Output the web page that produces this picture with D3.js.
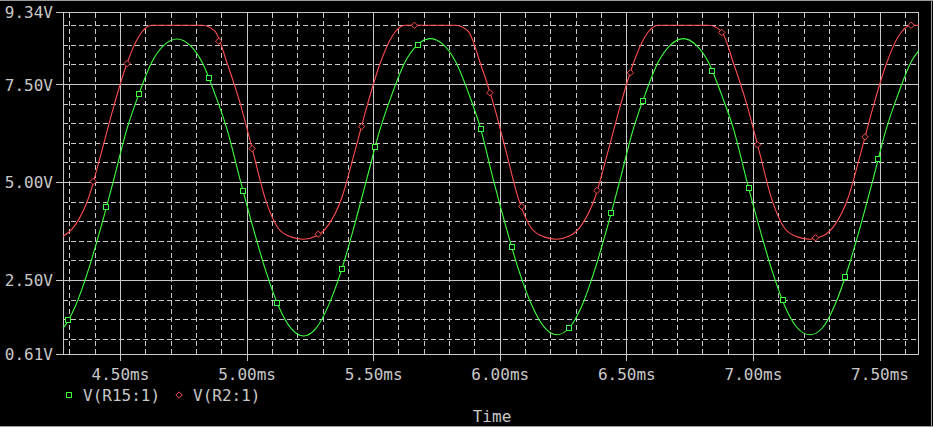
<!DOCTYPE html>
<html><head><meta charset="utf-8">
<script src="https://cdn.jsdelivr.net/npm/d3@7"></script>
<style>
html,body{margin:0;padding:0;background:#000;}
svg{display:block;}
text{font-family:"DejaVu Sans Mono","Liberation Mono",monospace;font-size:16px;fill:#c8c8c8;}
</style></head><body>
<svg id="chart" width="933" height="427"></svg>
<script>
// ---- data ----
const time = [4.225,4.275,4.325,4.375,4.425,4.475,4.525,4.575,4.625,4.675,
              4.725,4.775,4.825,4.875,4.925,4.975,5.025,5.075,5.125,5.175,
              5.225,5.275,5.325,5.375,5.425,5.475,5.525,5.575,5.625,5.675,
              5.725,5.775,5.825,5.875,5.925,5.975,6.025,6.075,6.125,6.175,
              6.225,6.275,6.325,6.375,6.425,6.475,6.525,6.575,6.625,6.675,
              6.725,6.775,6.825,6.875,6.925,6.975,7.025,7.075,7.125,7.175,
              7.225,7.275,7.325,7.375,7.425,7.475,7.525,7.575,7.625,7.675];
const vR15 = [1.08,1.27,1.85,2.75,3.85,5.05,6.30,7.25,8.05,8.50,
              8.65,8.50,8.05,7.25,6.30,5.05,3.85,2.75,1.85,1.27,
              1.07,1.27,1.87,2.75,3.87,5.08,6.30,7.25,8.05,8.50,
              8.66,8.52,8.08,7.30,6.35,5.05,3.85,2.75,1.88,1.30,
              1.10,1.28,1.85,2.75,3.85,5.05,6.30,7.25,8.05,8.50,
              8.66,8.50,8.05,7.25,6.32,5.05,3.85,2.75,1.85,1.28,
              1.10,1.28,1.88,2.78,3.88,5.08,6.32,7.27,8.07,8.50];
const vR2  = [3.54,3.62,3.92,4.58,5.72,6.92,7.98,8.72,9.00,9.00,
              9.00,9.00,9.00,8.85,8.00,7.00,5.78,4.55,3.82,3.60,
              3.54,3.62,3.92,4.58,5.72,6.92,7.98,8.72,9.00,9.00,
              9.00,9.00,9.00,8.85,8.00,7.00,5.78,4.55,3.82,3.60,
              3.54,3.62,3.92,4.58,5.72,6.92,7.98,8.72,9.00,9.00,
              9.00,9.00,9.00,8.85,8.00,7.00,5.78,4.55,3.82,3.60,
              3.54,3.62,3.92,4.58,5.72,6.92,7.98,8.72,9.00,9.00];
const markR15 = [4.293,4.446,4.575,4.850,4.987,5.122,5.376,5.508,5.676,5.925,
                 6.048,6.273,6.440,6.566,6.838,6.983,7.117,7.364,7.495];
const markR2  = [4.394,4.528,4.890,5.022,5.283,5.454,5.663,5.961,6.087,6.384,
                 6.516,6.877,7.018,7.247,7.443,7.625];
const xMajor = [4.5,5.0,5.5,6.0,6.5,7.0,7.5];
const xMinor = [4.3,4.4,4.6,4.7,4.8,4.9,5.1,5.2,5.3,5.4,5.6,5.7,5.8,5.9,
                6.1,6.2,6.3,6.4,6.6,6.7,6.8,6.9,7.1,7.2,7.3,7.4,7.6];
const yLabels = [0.61,2.5,5.0,7.5,9.34];
const yMajor = [2.5,5.0,7.5];
const yMinor = [1.0,1.5,2.0,3.0,3.5,4.0,4.5,5.5,6.0,6.5,7.0,8.0,8.5,9.0];
const seriesNames = ["V(R15:1)","V(R2:1)"];
const xTitle = "Time";
const xDomain = [4.275,7.656];
const yDomain = [0.61,9.34];

// ---- layout ----
const L = 63, T = 12, R = 919, B = 354;
const W = R - L, H = B - T;
const gridColor = "#c8c8c8";
const greenColor = "#3dff3d";
const redColor = "#ff4d4d";

const svg = d3.select("#chart");
svg.append("rect").attr("width",933).attr("height",427).attr("fill","#000");

const x = d3.scaleLinear().domain(xDomain).range([L, R]);
const y = d3.scaleLinear().domain(yDomain).range([B, T]);

function styleGrid(g, dashed){
  g.select(".domain").remove();
  g.selectAll("line").attr("stroke", gridColor).attr("stroke-width",1)
    .attr("shape-rendering","crispEdges")
    .attr("stroke-dasharray", dashed ? "5,3" : null);
}

// minor grids (dashed)
svg.append("g").attr("transform",`translate(0,${B})`)
  .call(d3.axisBottom(x).tickValues(xMinor).tickSize(-H).tickFormat(""))
  .call(g=>styleGrid(g,true));
svg.append("g").attr("transform",`translate(${L},0)`)
  .call(d3.axisLeft(y).tickValues(yMinor).tickSize(-W).tickFormat(""))
  .call(g=>styleGrid(g,true));
// major grids (solid)
svg.append("g").attr("transform",`translate(0,${B})`)
  .call(d3.axisBottom(x).tickValues(xMajor).tickSize(-H).tickFormat(""))
  .call(g=>styleGrid(g,false));
svg.append("g").attr("transform",`translate(${L},0)`)
  .call(d3.axisLeft(y).tickValues(yMajor).tickSize(-W).tickFormat(""))
  .call(g=>styleGrid(g,false));

// frame
svg.append("rect").attr("x",L+0.5).attr("y",T+0.5).attr("width",W-1).attr("height",H)
  .attr("fill","none").attr("stroke",gridColor).attr("shape-rendering","crispEdges");

// axes with labels
const xAxis = svg.append("g").attr("transform",`translate(0,${B})`)
  .call(d3.axisBottom(x).tickValues(xMajor).tickSize(7).tickPadding(7.5)
        .tickFormat(d=>d.toFixed(2)+"ms"));
xAxis.select(".domain").remove();
xAxis.selectAll("line").attr("stroke",gridColor).attr("shape-rendering","crispEdges");
xAxis.selectAll("text").attr("fill",gridColor).style("font-size","16px")
  .style("font-family","DejaVu Sans Mono, monospace");

const yAxis = svg.append("g").attr("transform",`translate(${L},0)`)
  .call(d3.axisLeft(y).tickValues(yLabels).tickSize(7).tickPadding(3)
        .tickFormat(d=>d.toFixed(2)+"V"));
yAxis.select(".domain").remove();
yAxis.selectAll("line").attr("stroke",gridColor).attr("shape-rendering","crispEdges");
yAxis.selectAll("text").attr("fill",gridColor).attr("dy","0.37em").style("font-size","16px")
  .style("font-family","DejaVu Sans Mono, monospace");

// clip
svg.append("clipPath").attr("id","plotclip").append("rect")
  .attr("x",L).attr("y",T-2).attr("width",W).attr("height",H+4);

const plot = svg.append("g").attr("clip-path","url(#plotclip)");
const line = d3.line().curve(d3.curveMonotoneX);
const ptsG = time.map((t,i)=>[x(t), y(vR15[i])]);
const ptsR = time.map((t,i)=>[x(t), y(vR2[i])]);
plot.append("path").attr("d",line(ptsG)).attr("fill","none").attr("stroke",greenColor).attr("stroke-width",1.1);
plot.append("path").attr("d",line(ptsR)).attr("fill","none").attr("stroke",redColor).attr("stroke-width",1.1);

// markers positioned on the series
const interpG = d3.scaleLinear().domain(time).range(vR15);
const interpR = d3.scaleLinear().domain(time).range(vR2);
const sq = 5, dm = 3.2;
plot.selectAll(".mG").data(markR15).join("rect")
  .attr("x",d=>Math.round(x(d))-sq/2).attr("y",d=>Math.round(y(interpG(d)))-sq/2)
  .attr("width",sq).attr("height",sq).attr("fill","#000").attr("stroke",greenColor).attr("stroke-width",1);
plot.selectAll(".mR").data(markR2).join("path")
  .attr("d",d=>{const cx=x(d), cy=y(interpR(d));
    return `M${cx},${cy-dm}L${cx+dm},${cy}L${cx},${cy+dm}L${cx-dm},${cy}Z`;})
  .attr("fill","#000").attr("stroke",redColor).attr("stroke-width",1);

// legend
const legY = 395;
svg.append("rect").attr("x",66.5).attr("y",legY-2.5).attr("width",sq).attr("height",sq)
  .attr("fill","none").attr("stroke",greenColor);
svg.append("text").attr("x",83).attr("y",legY+6).text(seriesNames[0]);
svg.append("path").attr("d",`M179,${legY-dm}L${179+dm},${legY}L179,${legY+dm}L${179-dm},${legY}Z`)
  .attr("fill","none").attr("stroke",redColor);
svg.append("text").attr("x",193).attr("y",legY+6).text(seriesNames[1]);

// axis title
svg.append("text").attr("x",492).attr("y",422).attr("text-anchor","middle").text(xTitle);

// window edges
svg.append("line").attr("x1",0).attr("x2",933).attr("y1",0.5).attr("y2",0.5).attr("stroke","#9a9a9a");
svg.append("line").attr("x1",931.5).attr("x2",931.5).attr("y1",0).attr("y2",427).attr("stroke","#9a9a9a");
svg.append("line").attr("x1",0).attr("x2",933).attr("y1",426.5).attr("y2",426.5).attr("stroke","#9a9a9a");
</script>
</body></html>
